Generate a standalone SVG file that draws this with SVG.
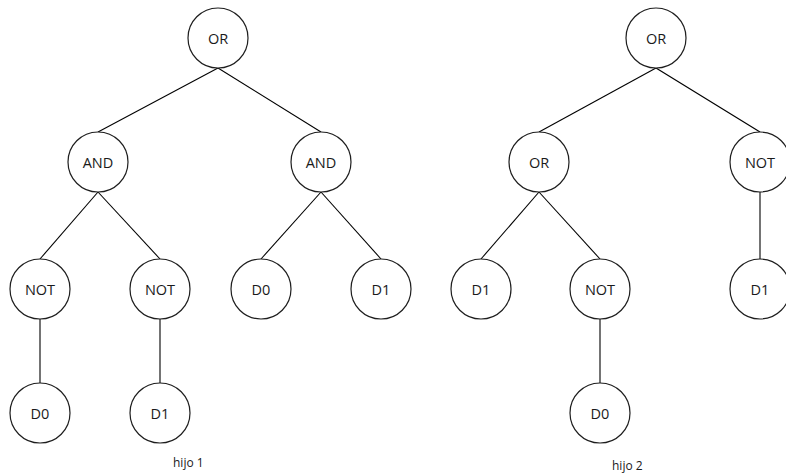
<svg xmlns="http://www.w3.org/2000/svg" width="786" height="476" viewBox="0 0 786 476">
  <style>
    .node circle { fill: #ffffff; stroke: #1e1e1e; stroke-width: 1.2; }
    .node text { font-family: "Open Sans", "Liberation Sans", sans-serif; font-size: 14.5px; fill: #1a1a1a; text-anchor: middle; dominant-baseline: central; }
    .edges line { stroke: #000000; stroke-width: 1.1; }
    .caption { font-family: "Open Sans", "Liberation Sans", sans-serif; font-size: 12px; fill: #1a1a1a; }
  </style>
  <rect width="786" height="476" fill="#ffffff"/>

  <!-- connectors: child top point to parent bottom point -->
  <g id="connectors" class="edges">
    <!-- tree 1 -->
    <line x1="218" y1="68" x2="98" y2="132"/>
    <line x1="218" y1="68" x2="321" y2="132"/>
    <line x1="98" y1="192" x2="40" y2="259"/>
    <line x1="98" y1="192" x2="160" y2="259"/>
    <line x1="321" y1="192" x2="261" y2="259"/>
    <line x1="321" y1="192" x2="381" y2="259"/>
    <line x1="40" y1="319" x2="40" y2="383"/>
    <line x1="160" y1="319" x2="160" y2="383"/>
    <!-- tree 2 -->
    <line x1="656" y1="68" x2="539" y2="132"/>
    <line x1="656" y1="68" x2="760" y2="132"/>
    <line x1="539" y1="192" x2="481" y2="259"/>
    <line x1="539" y1="192" x2="600" y2="259"/>
    <line x1="760" y1="192" x2="760" y2="259"/>
    <line x1="600" y1="319" x2="600" y2="383"/>
  </g>

  <!-- tree 1 nodes -->
  <g id="t1-or" class="node"><circle cx="218" cy="38" r="30"/><text x="218" y="38">OR</text></g>
  <g id="t1-and-left" class="node"><circle cx="98" cy="162" r="30"/><text x="98" y="162">AND</text></g>
  <g id="t1-and-right" class="node"><circle cx="321" cy="162" r="30"/><text x="321" y="162">AND</text></g>
  <g id="t1-not-left" class="node"><circle cx="40" cy="289" r="30"/><text x="40" y="289">NOT</text></g>
  <g id="t1-not-right" class="node"><circle cx="160" cy="289" r="30"/><text x="160" y="289">NOT</text></g>
  <g id="t1-d0-mid" class="node"><circle cx="261" cy="289" r="30"/><text x="261" y="289">D0</text></g>
  <g id="t1-d1-mid" class="node"><circle cx="381" cy="289" r="30"/><text x="381" y="289">D1</text></g>
  <g id="t1-d0-leaf" class="node"><circle cx="40" cy="413" r="30"/><text x="40" y="413">D0</text></g>
  <g id="t1-d1-leaf" class="node"><circle cx="160" cy="413" r="30"/><text x="160" y="413">D1</text></g>

  <!-- tree 2 nodes -->
  <g id="t2-or" class="node"><circle cx="656" cy="38" r="30"/><text x="656" y="38">OR</text></g>
  <g id="t2-or-left" class="node"><circle cx="539" cy="162" r="30"/><text x="539" y="162">OR</text></g>
  <g id="t2-not-right" class="node"><circle cx="760" cy="162" r="30"/><text x="760" y="162">NOT</text></g>
  <g id="t2-d1-left" class="node"><circle cx="481" cy="289" r="30"/><text x="481" y="289">D1</text></g>
  <g id="t2-not-mid" class="node"><circle cx="600" cy="289" r="30"/><text x="600" y="289">NOT</text></g>
  <g id="t2-d1-right" class="node"><circle cx="760" cy="289" r="30"/><text x="760" y="289">D1</text></g>
  <g id="t2-d0-leaf" class="node"><circle cx="600" cy="413" r="30"/><text x="600" y="413">D0</text></g>

  <text class="caption" x="173" y="467">hijo 1</text>
  <text class="caption" x="612" y="470">hijo 2</text>
</svg>
